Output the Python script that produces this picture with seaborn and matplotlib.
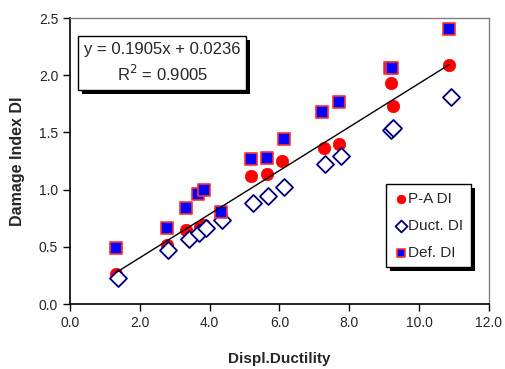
import numpy as np
import pandas as pd
import matplotlib
matplotlib.use('Agg')
import matplotlib.pyplot as plt
import matplotlib.patheffects as pe
import seaborn as sns

# values
pa_x = [1.32, 2.78, 3.32, 3.72, 3.84, 4.32, 5.18, 5.64, 6.07, 7.27, 7.70, 9.19, 9.25, 10.85]
pa_y = [0.26, 0.52, 0.65, 0.67, 0.69, 0.78, 1.12, 1.14, 1.25, 1.36, 1.40, 1.93, 1.73, 2.09]

duct_x = [1.37, 2.81, 3.41, 3.70, 3.89, 4.35, 5.24, 5.67, 6.13, 7.30, 7.76, 9.20, 9.25, 10.91]
duct_y = [0.23, 0.47, 0.57, 0.62, 0.66, 0.73, 0.88, 0.94, 1.02, 1.22, 1.29, 1.52, 1.54, 1.81]

def_x = [1.32, 2.78, 3.32, 3.67, 3.84, 4.32, 5.18, 5.64, 6.13, 7.22, 7.70, 9.16, 9.22, 10.85]
def_y = [0.49, 0.66, 0.84, 0.96, 1.00, 0.80, 1.27, 1.28, 1.44, 1.68, 1.77, 2.06, 2.06, 2.40]

slope, intercept, r2 = 0.1905, 0.0236, 0.9005

sns.set_style('white')
plt.rcParams['font.family'] = ['Liberation Sans', 'DejaVu Sans']

fig = plt.figure(figsize=(5.06, 3.69), dpi=100)
ax = fig.add_axes([70 / 506, 1 - 304 / 369, 419 / 506, 286 / 369])

pa = pd.DataFrame({'x': pa_x, 'y': pa_y})
duct = pd.DataFrame({'x': duct_x, 'y': duct_y})
dfl = pd.DataFrame({'x': def_x, 'y': def_y})

sns.scatterplot(data=pa, x='x', y='y', ax=ax, marker='o', s=80, color='#ff0000',
                edgecolor='#ff0000', linewidth=0.5, label='P-A DI', zorder=3)
sns.scatterplot(data=duct, x='x', y='y', ax=ax, marker='D', s=75, facecolor='white',
                edgecolor='#000080', linewidth=1.3, label='Duct. DI', zorder=4)
sns.scatterplot(data=dfl, x='x', y='y', ax=ax, marker='s', s=70, color='#0000ff',
                edgecolor='#ff3030', linewidth=1.2, label='Def. DI', zorder=5)

# linear trend line (P-A DI)
xl = np.array([min(pa_x), max(pa_x)])
ax.plot(xl, slope * xl + intercept, color='black', lw=1.0, zorder=6)

ax.set_xlim(0, 12)
ax.set_ylim(0, 2.5)
ax.set_xticks(np.arange(0, 12.1, 2))
ax.set_yticks(np.arange(0, 2.51, 0.5))
ax.set_xticklabels([f'{v:.1f}' for v in np.arange(0, 12.1, 2)])
ax.set_yticklabels([f'{v:.1f}' for v in np.arange(0, 2.51, 0.5)])
ax.tick_params(axis='both', direction='out', length=5, width=1, labelsize=10,
               color='black', left=True, bottom=True)
for side in ['top', 'right']:
    ax.spines[side].set_color('#808080')
    ax.spines[side].set_linewidth(1)
for side in ['left', 'bottom']:
    ax.spines[side].set_color('black')
    ax.spines[side].set_linewidth(1.2)

ax.set_xlabel('Displ.Ductility', fontsize=11, fontweight='bold', labelpad=16)
ax.set_ylabel('Damage Index DI', fontsize=11.5, fontweight='bold', labelpad=10)

shadow = [pe.SimplePatchShadow(offset=(3, -3), shadow_rgbFace='black', alpha=1), pe.Normal()]

txt = ax.text(0.22, 0.843, f'y = {slope}x + {intercept}\nR$^2$ = {r2}',
              transform=ax.transAxes, ha='center', va='center', fontsize=12,
              linespacing=1.45, zorder=10,
              bbox=dict(boxstyle='square,pad=0.35', facecolor='white',
                        edgecolor='black', linewidth=1))
txt.get_bbox_patch().set_path_effects(shadow)

leg = ax.legend(loc='upper left', bbox_to_anchor=((386 - 70) / 419, (304 - 184) / 286),
                fontsize=11, frameon=True, fancybox=False, markerscale=0.7,
                handletextpad=0.05, handlelength=0.9, borderpad=0.5, labelspacing=0.85,
                borderaxespad=0, framealpha=1, facecolor='white')
leg.get_frame().set_edgecolor('black')
leg.get_frame().set_linewidth(1)
leg.get_frame().set_path_effects(shadow)
leg.set_zorder(10)

fig.savefig('out.png', dpi=100)
